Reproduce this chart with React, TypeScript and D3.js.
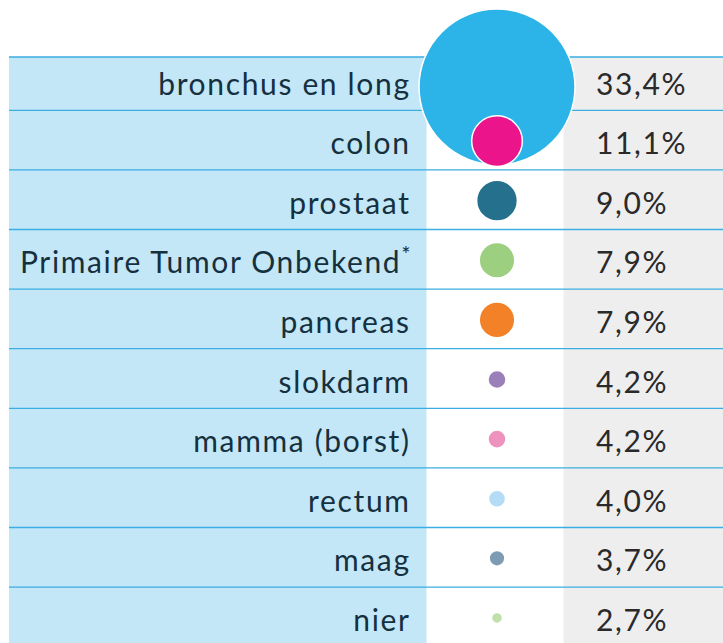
import React from "react";
import * as d3 from "d3";

const categories = [
  "bronchus en long",
  "colon",
  "prostaat",
  "Primaire Tumor Onbekend",
  "pancreas",
  "slokdarm",
  "mamma (borst)",
  "rectum",
  "maag",
  "nier",
];
const values = [33.4, 11.1, 9.0, 7.9, 7.9, 4.2, 4.2, 4.0, 3.7, 2.7];
const valueLabels = ["33,4%", "11,1%", "9,0%", "7,9%", "7,9%", "4,2%", "4,2%", "4,0%", "3,7%", "2,7%"];
const footnoteMarks = ["", "", "", "*", "", "", "", "", "", ""];
const colors = [
  "#2cb4e8",
  "#ec148a",
  "#25718d",
  "#9ccf7f",
  "#f38127",
  "#9b7fb8",
  "#ee93be",
  "#b4dcf4",
  "#7d9cb3",
  "#c0e0a9",
];

const W = 723;
const H = 643;
const TOP = 57;
const FONT = "Lato, 'Noto Sans', sans-serif";
const LS = 1.65;

export default function App() {
  const y = d3
    .scaleBand<string>()
    .domain(categories)
    .range([50.7, 50.7 + 59.6 * categories.length])
    .paddingInner(0)
    .paddingOuter(0);

  const r = d3.scaleLinear().domain([2.7, 33.4]).range([5.5, 78]);

  const leftX0 = 9;
  const leftX1 = 426.5;
  const grayX0 = 563.5;
  const bubbleX = 497;
  const labelRight = 409;
  const valueLeft = 596;

  const lineYs = [TOP, ...categories.slice(1).map((c) => y(c)!)];

  return (
    <svg
      width={W}
      height={H}
      style={{ position: "absolute", left: 0, top: 0, background: "#ffffff" }}
      fontFamily={FONT}
    >
      <rect x={leftX0} y={TOP} width={leftX1 - leftX0} height={H - TOP} fill="#c3e7f6" />
      <rect x={grayX0} y={TOP} width={W - grayX0} height={H - TOP} fill="#eeeeee" />
      {lineYs.map((ly, i) => (
        <line key={i} x1={leftX0} x2={W} y1={ly} y2={ly} stroke="#3aaee2" strokeWidth={1.3} />
      ))}
      {categories.map((c, i) => {
        const cy = y(c)! + y.bandwidth() / 2;
        return (
          <g key={c}>
            <text
              x={labelRight + LS}
              y={cy + 14}
              textAnchor="end"
              fontSize={30}
              letterSpacing={LS}
              fill="#15303f"
            >
              {c}
              {footnoteMarks[i] ? (
                <tspan fontSize={22} dy={-11} letterSpacing={0}>
                  {footnoteMarks[i]}
                </tspan>
              ) : null}
            </text>
            <text x={valueLeft} y={cy + 14} fontSize={30} letterSpacing={LS} fill="#2a2a2a">
              {valueLabels[i]}
            </text>
          </g>
        );
      })}
      {categories.map((c, i) => {
        const rad = r(values[i]);
        const center = y(c)! + y.bandwidth() / 2 + 1;
        const cy = Math.max(center, rad + 9);
        return (
          <circle
            key={"b" + c}
            cx={bubbleX}
            cy={cy}
            r={rad}
            fill={colors[i]}
            stroke="#ffffff"
            strokeWidth={1.5}
          />
        );
      })}
    </svg>
  );
}
